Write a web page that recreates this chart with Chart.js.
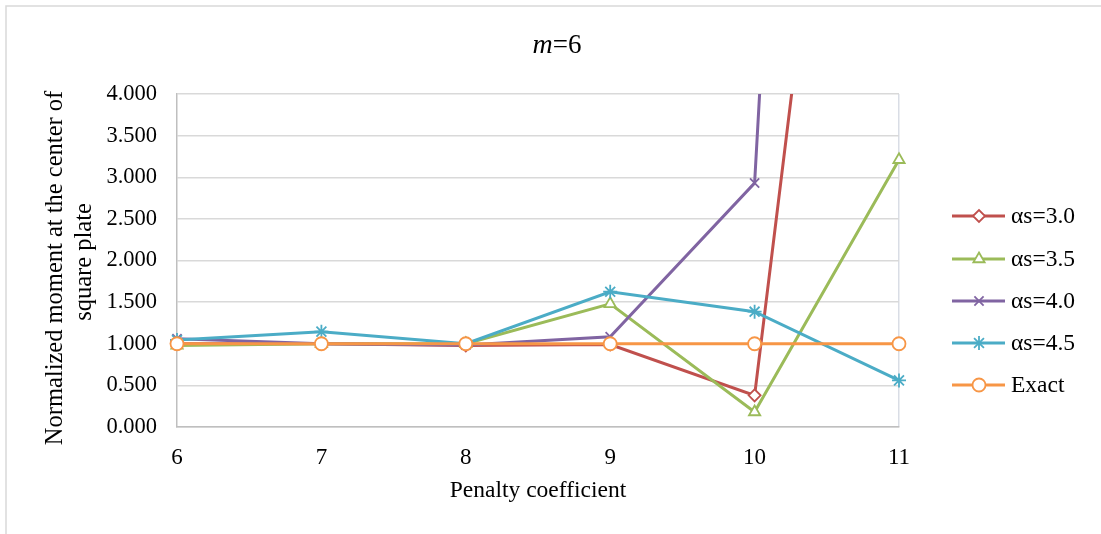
<!DOCTYPE html>
<html><head><meta charset="utf-8">
<script src="https://cdn.jsdelivr.net/npm/chart.js@4/dist/chart.umd.min.js"></script>
<style>html,body{margin:0;padding:0;background:#fff;} #wrap{position:relative;width:1101px;height:534px;} canvas{display:block;}</style>
</head><body><div id="wrap"><canvas id="c" width="1101" height="534"></canvas></div>
<script>
const categories = ['6', '7', '8', '9', '10', '11'];
const alpha30 = [1.00, 1.00, 0.98, 0.99, 0.38, 14.5];
const alpha35 = [0.98, 1.00, 1.00, 1.48, 0.18, 3.21];
const alpha40 = [1.06, 1.00, 0.985, 1.085, 2.93, 33.8];
const alpha45 = [1.045, 1.145, 1.00, 1.625, 1.385, 0.56];
const exact = [1.00, 1.00, 1.00, 1.00, 1.00, 1.00];
const seriesNames = ['\u03b1s=3.0', '\u03b1s=3.5', '\u03b1s=4.0', '\u03b1s=4.5', 'Exact'];
const titleText = ['m', '=6'];
const xTitle = 'Penalty coefficient';
const yTitle = ['Normalized moment at the center of', 'square plate'];

const FONT = "'Liberation Serif', 'Times New Roman', serif";
const colors = ['#C0504D', '#9BBB59', '#8064A2', '#4BACC6', '#F79646'];
const styles = ['rectRot', 'triangle', 'crossRot', 'star', 'circle'];
const radii = [6, 6.5, 6.5, 7, 6.5];
const allData = [alpha30, alpha35, alpha40, alpha45, exact];

const datasets = allData.map((d, i) => ({
  label: seriesNames[i],
  data: d,
  borderColor: colors[i],
  backgroundColor: '#ffffff',
  borderWidth: 3,
  pointStyle: styles[i],
  pointRadius: radii[i],
  pointHoverRadius: radii[i],
  pointBorderWidth: 1.8,
  pointBorderColor: colors[i],
  pointBackgroundColor: '#ffffff',
  tension: 0,
  order: 4 - i,
  clip: {left: 20, right: 20, top: 0, bottom: 20}
}));

function drawMarker(ctx, style, r, x, y) {
  if (Chart.helpers && Chart.helpers.drawPoint) {
    Chart.helpers.drawPoint(ctx, {pointStyle: style, rotation: 0, radius: r, borderWidth: 1.8}, x, y);
  } else {
    ctx.beginPath(); ctx.arc(x, y, r, 0, Math.PI * 2); ctx.fill(); ctx.stroke();
  }
}

const decor = {
  id: 'decor',
  afterDraw(chart) {
    const ctx = chart.ctx;
    ctx.save();
    // outer border
    ctx.strokeStyle = '#d9d9d9';
    ctx.lineWidth = 1.5;
    ctx.beginPath();
    ctx.moveTo(6, 540); ctx.lineTo(6, 6); ctx.lineTo(1110, 6);
    ctx.stroke();
    // title
    ctx.fillStyle = '#000';
    ctx.textBaseline = 'middle';
    ctx.font = "italic 28px " + FONT;
    const w1 = ctx.measureText(titleText[0]).width;
    ctx.font = "27px " + FONT;
    const w2 = ctx.measureText(titleText[1]).width;
    let tx = 557 - (w1 + w2) / 2;
    ctx.textAlign = 'left';
    ctx.font = "italic 28px " + FONT;
    ctx.fillText(titleText[0], tx, 46);
    ctx.font = "27px " + FONT;
    ctx.fillText(titleText[1], tx + w1, 46);
    // x title
    ctx.font = "23.5px " + FONT;
    ctx.textAlign = 'center';
    ctx.fillText(xTitle, 538, 491);
    // y title
    ctx.save();
    ctx.font = "24.5px " + FONT;
    ctx.translate(56, 268);
    ctx.rotate(-Math.PI / 2);
    ctx.fillText(yTitle[0], 0, 0);
    ctx.fillText(yTitle[1], 6, 29);
    ctx.restore();
    // legend
    const ys = [216, 259, 301, 343, 385];
    for (let i = 0; i < seriesNames.length; i++) {
      const y = ys[i];
      ctx.strokeStyle = colors[i];
      ctx.lineWidth = 3;
      ctx.beginPath(); ctx.moveTo(952, y); ctx.lineTo(1005, y); ctx.stroke();
      ctx.fillStyle = '#ffffff';
      ctx.strokeStyle = colors[i];
      ctx.lineWidth = 1.8;
      drawMarker(ctx, styles[i], radii[i], 979, y);
      ctx.fillStyle = '#000';
      ctx.font = "23.5px " + FONT;
      ctx.textAlign = 'left';
      ctx.textBaseline = 'middle';
      ctx.fillText(seriesNames[i], 1011, y + 1);
    }
    ctx.restore();
  }
};

new Chart(document.getElementById('c'), {
  type: 'line',
  data: {labels: categories, datasets},
  plugins: [decor],
  options: {
    responsive: false,
    animation: false,
    events: [],
    layout: {padding: {left: 0, top: 94, right: 202, bottom: 0}},
    plugins: {legend: {display: false}, title: {display: false}, tooltip: {enabled: false}},
    scales: {
      x: {
        type: 'category',
        offset: false,
        afterFit(s) { s.height = 107; },
        grid: {
          drawTicks: false,
          color: (c) => c.index === categories.length - 1 ? '#d9dde5' : 'rgba(0,0,0,0)',
          lineWidth: 1.5
        },
        border: {display: true, color: '#bfbfbf', width: 1.5},
        ticks: {color: '#000', font: {family: FONT, size: 23}, padding: 17, maxRotation: 0, autoSkip: false}
      },
      y: {
        min: 0, max: 4,
        afterFit(s) { s.width = 177; },
        grid: {drawTicks: false, color: '#d9d9d9', lineWidth: 1.5},
        border: {display: true, color: '#bfbfbf', width: 1.5},
        ticks: {
          stepSize: 0.5, color: '#000', padding: 20,
          font: {family: FONT, size: 22.5},
          callback: (v) => Number(v).toFixed(3)
        }
      }
    }
  }
});
</script></body></html>
